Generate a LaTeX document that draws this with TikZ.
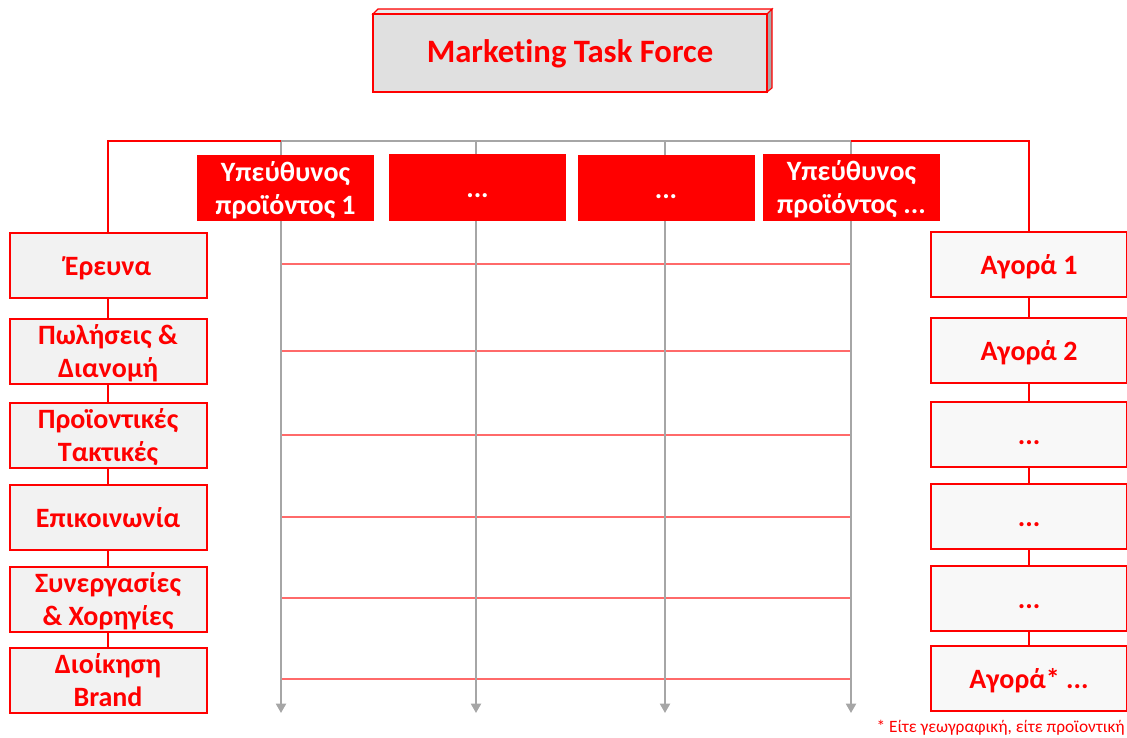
\documentclass[tikz,border=0pt]{standalone}
\usepackage{fontspec}
\setmainfont{Carlito}[Ligatures=NoCommon]
\usetikzlibrary{arrows.meta}
\definecolor{mred}{HTML}{FF0000}
\definecolor{lred}{HTML}{FF6A6A}
\definecolor{mgray}{HTML}{A6A6A6}
\definecolor{lfill}{HTML}{F2F2F2}
\definecolor{rfill}{HTML}{F8F8F8}
\definecolor{tfill}{HTML}{E0E0E0}
\definecolor{tside}{HTML}{A8A8A8}
\definecolor{ttop}{HTML}{EAEAEA}
\newcommand{\twol}[2]{\smash{\begin{tabular}{@{}c@{}}#1\\#2\end{tabular}}}
\tikzset{
  boxtext/.style={inner sep=0pt, align=center, font=\fontsize{21}{24.75}\selectfont\bfseries,
    execute at begin node={\rule{0pt}{21pt}}, execute at end node={\rule[-6pt]{0pt}{0pt}}},
  sidebox/.style={boxtext, draw=mred, line width=1.5pt, fill=lfill, minimum width=147.75pt, minimum height=48.75pt,
    text=mred},
  mktbox/.style={sidebox, fill=rfill, minimum width=147pt},
  prodbox/.style={boxtext, fill=mred, draw=none, minimum width=132.75pt, minimum height=49.5pt, text=white},
  redline/.style={draw=mred, line width=1.5pt},
  grayline/.style={draw=mgray, line width=1.5pt},
  grayarrow/.style={grayline, -{Triangle[width=7.5pt,length=7pt]}},
  rowline/.style={draw=lred, line width=1.1pt},
}
\begin{document}
\begin{tikzpicture}[x=0.75pt, y=-0.75pt]
\useasboundingbox (0,0) rectangle (1127,738);
% coordinates of the grid
\coordinate (tl) at (108,141);
\coordinate (tr) at (1029,141);
\coordinate (g1) at (281,141);
\coordinate (g2) at (476,141);
\coordinate (g3) at (665,141);
\coordinate (g4) at (851,141);
\coordinate (e1) at (281,713);
\coordinate (e2) at (476,713);
\coordinate (e3) at (665,713);
\coordinate (e4) at (851,713);
\coordinate (y1) at (0,264);
\coordinate (y2) at (0,351);
\coordinate (y3) at (0,435);
\coordinate (y4) at (0,517);
\coordinate (y5) at (0,598);
\coordinate (y6) at (0,679);
% grid lines (behind the boxes)
\draw[grayline] (g1) -- (g4);
\foreach \k in {1,...,6} { \draw[rowline] (g1 |- y\k) -- (g4 |- y\k); }
\foreach \k in {1,...,4} { \draw[grayarrow] (g\k) -- (e\k); }
% title box (3D)
\fill[ttop, draw=mred, line width=0.8pt] (373,14) -- (378,9) -- (772,9) -- (767,14) -- cycle;
\fill[tside, draw=mred, line width=0.8pt] (767,14) -- (772,9) -- (772,88) -- (767,92) -- cycle;
\node[draw=mred, line width=1.2pt, fill=tfill, minimum width=295.5pt, minimum height=58.5pt, inner sep=0pt,
  text height=19pt, text depth=4pt,
  text=mred, font=\fontsize{24.5}{28}\selectfont\bfseries] (title) at (570,53) {Marketing Task Force};
% product owners
\node[prodbox] (p1) at (285.5,188) {\twol{Υπεύθυνος}{προϊόντος 1}};
\node[prodbox] (p2) at (477.5,187.5) {...};
\node[prodbox] (p3) at (666,188) {...};
\node[prodbox] (p4) at (851.5,187.5) {\twol{Υπεύθυνος}{προϊόντος ...}};
% left functions
\node[sidebox] (l1) at (108,265.5) {Έρευνα};
\node[sidebox] (l2) at (108,351.5) {\twol{Πωλήσεις \&}{Διανομή}};
\node[sidebox] (l3) at (108,435.5) {\twol{Προϊοντικές}{Τακτικές}};
\node[sidebox] (l4) at (108,517.5) {Επικοινωνία};
\node[sidebox] (l5) at (108,599) {\twol{Συνεργασίες}{\& Χορηγίες}};
\node[sidebox] (l6) at (108,680) {\twol{Διοίκηση}{Brand}};
% right markets
\node[mktbox] (r1) at (1029,264) {Αγορά 1};
\node[mktbox] (r2) at (1029,350) {Αγορά 2};
\node[mktbox] (r3) at (1029,434) {...};
\node[mktbox] (r4) at (1029,516.5) {...};
\node[mktbox] (r5) at (1029,598.5) {...};
\node[mktbox] (r6) at (1029,678.5) {Αγορά* ...};
% footnote
\node[anchor=east, inner sep=0pt, text=mred, font=\fontsize{13}{15}\selectfont] (note) at (1125,728)
  {* Είτε γεωγραφική, είτε προϊοντική};
% red connectors
\draw[redline] (l1.north) -- (tl) -- (g1);
\draw[redline] (g4) -- (tr) -- (r1.north);
\draw[redline] (l1.south) -- (l2.north) (l2.south) -- (l3.north) (l3.south) -- (l4.north)
  (l4.south) -- (l5.north) (l5.south) -- (l6.north);
\draw[redline] (r1.south) -- (r2.north) (r2.south) -- (r3.north) (r3.south) -- (r4.north)
  (r4.south) -- (r5.north) (r5.south) -- (r6.north);
\end{tikzpicture}
\end{document}
